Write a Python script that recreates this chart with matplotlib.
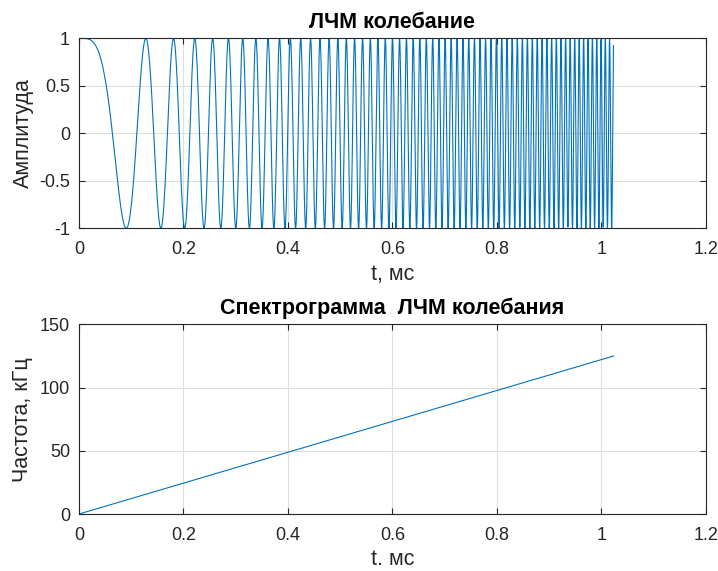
import numpy as np
import matplotlib
matplotlib.use("Agg")
import matplotlib.pyplot as plt

# LFM pulse parameters
pulse_duration_ms = 1.024      # pulse length, ms
sample_rate_khz = 2000.0       # sampling rate, kHz
end_freq_khz = 125.0           # instantaneous frequency at pulse end, kHz

# Spectrogram ridge (time, ms -> frequency, kHz)
spec_time_ms = [0.0, 1.024]
spec_freq_khz = [0.0, 125.0]

x_ticks = [0, 0.2, 0.4, 0.6, 0.8, 1.0, 1.2]
x_tick_labels = ["0", "0.2", "0.4", "0.6", "0.8", "1", "1.2"]
amp_ticks = [-1, -0.5, 0, 0.5, 1]
amp_tick_labels = ["-1", "-0.5", "0", "0.5", "1"]
freq_ticks = [0, 50, 100, 150]
freq_tick_labels = ["0", "50", "100", "150"]

# Chirp waveform
n_samples = int(round(pulse_duration_ms * sample_rate_khz))
t = np.arange(n_samples) / sample_rate_khz
chirp_rate = end_freq_khz / pulse_duration_ms
signal = np.cos(np.pi * chirp_rate * t ** 2)

plt.rcParams["font.family"] = ["Liberation Sans", "DejaVu Sans"]
line_color = "#0072BD"
axis_color = "#262626"
grid_color = "#dfdfdf"

TICK_SIZE = 13
LABEL_SIZE = 15.5
TITLE_SIZE = 15.5

fig = plt.figure(figsize=(7.18, 5.71), dpi=100)
ax1 = fig.add_axes([0.110, 0.6002, 0.8728, 0.3327])
ax2 = fig.add_axes([0.110, 0.0998, 0.8728, 0.3322])


def style(ax):
    ax.grid(True, color=grid_color, linewidth=0.8)
    ax.set_axisbelow(True)
    for sp in ax.spines.values():
        sp.set_color(axis_color)
        sp.set_linewidth(0.8)
    ax.tick_params(direction="in", top=True, right=True, length=4,
                   width=0.8, color=axis_color, labelcolor=axis_color,
                   labelsize=TICK_SIZE)
    ax.tick_params(axis="x", pad=9.5)
    ax.tick_params(axis="y", pad=6.5)
    ax.yaxis.set_label_coords(-0.0726, 0.5)


ax1.plot(t, signal, color=line_color, linewidth=0.8)
ax1.set_xlim(0, 1.2)
ax1.set_ylim(-1, 1)
ax1.set_xticks(x_ticks, x_tick_labels)
ax1.set_yticks(amp_ticks, amp_tick_labels)
ax1.set_title("ЛЧМ колебание", fontsize=TITLE_SIZE, fontweight="bold",
              color="black", pad=7.2)
ax1.set_xlabel("t, мс", fontsize=LABEL_SIZE, color=axis_color, labelpad=4.0)
ax1.set_ylabel("Амплитуда", fontsize=LABEL_SIZE, color=axis_color)
style(ax1)

ax2.plot(spec_time_ms, spec_freq_khz, color=line_color, linewidth=0.8)
ax2.set_xlim(0, 1.2)
ax2.set_ylim(0, 150)
ax2.set_xticks(x_ticks, x_tick_labels)
ax2.set_yticks(freq_ticks, freq_tick_labels)
ax2.set_title("Спектрограмма  ЛЧМ колебания", fontsize=TITLE_SIZE,
              fontweight="bold", color="black", pad=7.2)
ax2.set_xlabel("t. мс", fontsize=LABEL_SIZE, color=axis_color, labelpad=3.6)
ax2.set_ylabel("Частота, кГц", fontsize=LABEL_SIZE, color=axis_color)
style(ax2)

fig.savefig("out.png", dpi=100, facecolor="white")
